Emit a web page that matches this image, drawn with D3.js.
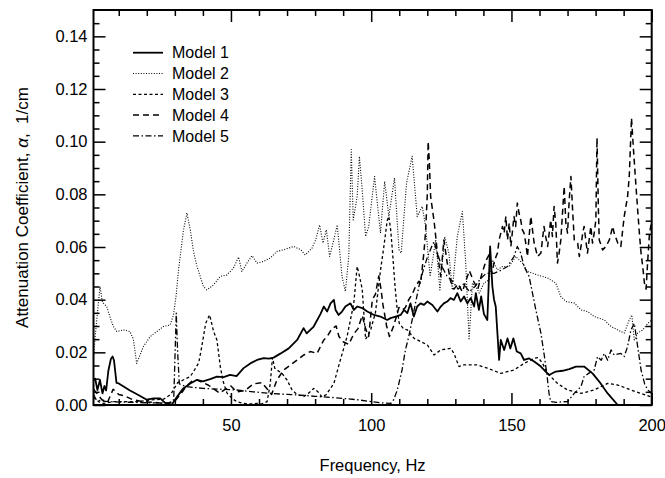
<!DOCTYPE html>
<html>
<head>
<meta charset="utf-8">
<script src="https://cdn.jsdelivr.net/npm/d3@7"></script>
<style>
  body { margin: 0; background: #fff; }
  text { font-family: "Liberation Sans", Arial, sans-serif; fill: #000; }
</style>
</head>
<body>
<div id="chart"></div>
<script>
// [frequency Hz, attenuation 1/cm]
let model1 = [[1,0.0095],[1.6,0.0100],[2.4,0.0057],[3.3,0.0095],[4.2,0.0044],[4.9,0.0072],[5.5,0.0055],[6.3,0.013],[7.2,0.0175],[7.8,0.0184],[8.3,0.017],[9.2,0.0084],[10,0.0082],[14,0.0055],[17,0.0038],[20,0.0020],[22.4,0.0025],[24.8,0.0025],[26.5,0.0008],[28.9,0.0001],[30.7,0.003],[33,0.0063],[35.5,0.0082],[37.8,0.0095],[40,0.009],[42.6,0.0098],[45,0.0108],[47.4,0.0106],[49.7,0.0114],[52,0.011],[54.5,0.014],[56.9,0.0158],[59.3,0.0171],[61.7,0.0178],[63.5,0.0176],[65.2,0.0180],[67.6,0.0195],[70.6,0.0215],[73.6,0.0247],[75.9,0.0292],[77,0.0272],[79.5,0.0298],[81.9,0.0345],[83.1,0.0374],[84.3,0.0355],[85.5,0.0386],[86.7,0.0399],[87.3,0.0361],[88.4,0.0342],[89.6,0.0355],[90.8,0.0374],[92.6,0.0386],[93.8,0.0361],[95,0.0374],[96.8,0.0368],[98.6,0.0355],[101,0.0342],[103.3,0.0336],[105.7,0.0323],[106.9,0.033],[108.7,0.0336],[110.5,0.0342],[111.7,0.0361],[112.9,0.0349],[114,0.0386],[115.2,0.0336],[116.4,0.0374],[117.6,0.0386],[118.8,0.038],[120,0.0393],[121.8,0.038],[123.6,0.0355],[124.8,0.0374],[125.9,0.0386],[127.1,0.0393],[128.3,0.0406],[129.5,0.0399],[130.7,0.0425],[131.9,0.0393],[133.1,0.0412],[134.3,0.0386],[135.5,0.0406],[136.7,0.0374],[137.3,0.0425],[138.4,0.0361],[139.2,0.0412],[140.2,0.0345],[141.4,0.0323],[142.4,0.0602],[143.2,0.045],[143.8,0.04],[144.4,0.0374],[145.6,0.0171],[146.2,0.0247],[147.4,0.0209],[148.6,0.0253],[149.6,0.0215],[150.7,0.0253],[151.9,0.0203],[153.3,0.0196],[154.5,0.0171],[156.3,0.0177],[158.1,0.0165],[160.5,0.0146],[162.2,0.0127],[163.4,0.0114],[165.8,0.0127],[168.2,0.013],[170.6,0.0136],[173,0.0146],[175.9,0.0146],[178.9,0.012],[181.3,0.0089],[184.3,0.0044],[187.9,0]];

let model2 = [[1,0.018],[1.6,0.026],[2.5,0.036],[3.3,0.045],[4.2,0.039],[5.7,0.0374],[7,0.033],[8.1,0.0298],[9.3,0.0279],[11.7,0.0285],[14,0.0279],[15.2,0.025],[16.4,0.0158],[17.6,0.019],[18.8,0.0222],[21.2,0.026],[23.6,0.0279],[25.9,0.0298],[28.3,0.0304],[29.5,0.034],[30.5,0.042],[31.3,0.0513],[33.1,0.0665],[34.3,0.0729],[35.5,0.0665],[36.7,0.058],[37.9,0.0526],[40.2,0.045],[41.4,0.0437],[43.8,0.0456],[46.2,0.0488],[48.6,0.0494],[50.9,0.052],[52.7,0.0562],[53.9,0.0507],[55.7,0.0539],[57.5,0.0567],[59.3,0.0539],[61.6,0.0545],[64,0.0558],[66.4,0.0583],[68.8,0.059],[70.6,0.0596],[72.4,0.0602],[74.8,0.059],[76.5,0.057],[78.9,0.0596],[80.2,0.0627],[81.6,0.0684],[82.8,0.0615],[84,0.0665],[85.2,0.0564],[86.5,0.062],[87.9,0.0684],[89.6,0.0488],[90.8,0.0431],[92,0.0564],[92.9,0.097],[93.6,0.0703],[95,0.0792],[95.8,0.0944],[96.8,0.0817],[98,0.064],[99.1,0.0678],[101.2,0.0868],[103.3,0.0653],[104.8,0.0849],[106.3,0.0716],[108.3,0.0862],[109.9,0.059],[110.7,0.0577],[112.6,0.0843],[114.6,0.0944],[116.4,0.0716],[118.2,0.0754],[119.4,0.0678],[121,0.0488],[123,0.0627],[124.5,0.0437],[126.2,0.064],[127.7,0.0577],[128.9,0.0437],[130.7,0.064],[132.5,0.0735],[133.7,0.0539],[134.9,0.0247],[136.1,0.0463],[137.3,0.045],[138.5,0.0425],[140.2,0.0463],[142,0.0475],[143.2,0.0551],[145,0.0513],[146.8,0.0526],[149.2,0.0526],[151.5,0.0564],[153.9,0.0539],[155.7,0.0507],[159.3,0.0494],[162.9,0.0482],[165.8,0.0463],[167.6,0.0412],[169.4,0.0393],[172.4,0.0387],[174.8,0.0361],[177.1,0.0355],[179.5,0.0336],[183.1,0.0323],[185.5,0.0298],[187.9,0.0285],[190.2,0.0273],[192,0.0323],[192.9,0.0342],[193.8,0.0247],[195,0.0273],[196.8,0.0285],[198.6,0.031],[200,0.0323]];

let model3 = [[1,0.003],[2,0.0019],[3,0.0012],[4.5,0.0006],[8,0.0013],[12,0.0013],[17.6,0.0013],[21,0.0019],[26,0.0022],[28.5,0.004],[29.5,0.0057],[31,0.0085],[33,0.0095],[35.5,0.0108],[37,0.0133],[38.5,0.016],[39.6,0.0222],[41,0.031],[42.4,0.0342],[43.8,0.028],[45,0.0247],[46.2,0.0146],[47.2,0.009],[48.6,0.0045],[50.4,0.0025],[52,0.0013],[54.5,0.0006],[57,0.0004],[59.3,0.0006],[61,0.0004],[62.9,0.0013],[64,0.008],[64.8,0.018],[65.6,0.014],[66.4,0.0133],[68.2,0.012],[70,0.0095],[71.8,0.0057],[73.6,0.004],[76,0.0032],[78,0.0048],[79.5,0.0063],[81,0.005],[82.5,0.003],[84,0.004],[86.7,0.0082],[89,0.0171],[91.4,0.026],[93.8,0.0387],[95,0.0526],[95.6,0.05],[96.8,0.044],[98,0.025],[98.6,0.026],[99.8,0.0285],[101.5,0.035],[103.3,0.051],[104.5,0.06],[105.7,0.07],[106.3,0.0716],[107,0.066],[107.6,0.058],[108.5,0.045],[109.3,0.036],[110,0.031],[111.5,0.029],[112.9,0.0285],[115.2,0.0254],[117.6,0.0241],[120,0.0228],[122.4,0.019],[124.8,0.0209],[128.3,0.0215],[129.5,0.0196],[131.3,0.0146],[133.1,0.0152],[137.9,0.0152],[141.4,0.014],[146.2,0.012],[150.9,0.0133],[154.5,0.0158],[158.1,0.0177],[159.5,0.018],[161,0.016],[162.9,0.012],[166.4,0.0082],[170,0.0057],[174.8,0.0044],[179.5,0.0057],[184.3,0.0082],[187.9,0.0076],[192.6,0.0057],[196.2,0.0044],[200,0.003]];

let model4 = [[1,0.006],[2.5,0.004],[4,0.002],[6,0.001],[8,0.006],[10,0.004],[12,0.0035],[15,0.002],[19,0.0012],[23,0.001],[27,0.0005],[30,0.0015],[32,0.004],[34,0.007],[36,0.009],[38,0.0095],[40,0.0085],[42,0.0075],[44,0.006],[46,0.0045],[48,0.006],[50,0.0072],[52,0.005],[55,0.0055],[58,0.008],[61,0.0085],[63,0.006],[64.5,0.004],[66.4,0.0095],[68.8,0.0133],[71,0.015],[73.6,0.0171],[76,0.019],[78.3,0.0203],[80.7,0.0196],[83.1,0.0247],[84.3,0.026],[86,0.029],[87.5,0.030],[88.5,0.026],[90,0.024],[92,0.023],[93.8,0.027],[95.3,0.029],[96.8,0.034],[98,0.029],[99.1,0.026],[100.4,0.04],[101.5,0.042],[102.7,0.049],[103.5,0.044],[104.2,0.038],[105.5,0.03],[106.5,0.026],[108,0.03],[109.9,0.037],[111,0.036],[112.2,0.037],[113.4,0.04],[114.6,0.042],[115.8,0.045],[117,0.047],[117.6,0.046],[118.2,0.052],[118.8,0.058],[119.4,0.066],[120,0.08],[120.3,0.1],[120.7,0.093],[121.2,0.079],[122.4,0.07],[123,0.064],[123.6,0.0577],[124.8,0.0488],[125.9,0.0627],[127.1,0.054],[128.3,0.047],[129.5,0.044],[131,0.046],[132.5,0.043],[133.7,0.047],[135,0.051],[136.5,0.047],[138,0.044],[139.5,0.05],[141,0.055],[142,0.057],[143,0.05],[144,0.055],[145,0.0577],[145.6,0.0627],[146.8,0.0678],[147.4,0.0653],[148,0.0716],[148.6,0.0627],[149.2,0.0691],[149.8,0.0602],[150.9,0.0716],[151.5,0.0678],[152.1,0.0767],[152.7,0.0729],[153.3,0.0703],[153.9,0.0665],[154.5,0.0653],[155.1,0.0615],[155.7,0.0564],[156.9,0.0716],[157.5,0.0665],[158.1,0.0615],[159.3,0.0564],[160.5,0.0577],[161.6,0.0678],[162.2,0.064],[162.9,0.0602],[164,0.0703],[164.6,0.064],[165.2,0.0754],[165.8,0.0691],[166.4,0.0539],[167,0.0577],[167.6,0.0627],[168.8,0.083],[169.4,0.0691],[170,0.0653],[170.6,0.078],[171.2,0.0868],[171.8,0.0741],[172.4,0.0627],[173.6,0.0615],[174.2,0.0564],[174.8,0.0602],[175.4,0.0653],[175.9,0.0678],[177.1,0.0577],[178.3,0.0678],[178.9,0.0615],[179.5,0.0653],[180.1,0.0703],[180.5,0.1014],[181,0.0741],[181.3,0.0627],[182.5,0.0589],[183.7,0.0602],[184.9,0.0627],[186.1,0.0678],[186.6,0.0653],[187.9,0.0615],[189,0.0602],[190.2,0.0716],[191.4,0.0792],[192,0.0868],[192.8,0.109],[193.5,0.097],[194.4,0.083],[195,0.0741],[195.6,0.0653],[196.2,0.0577],[196.8,0.0526],[197.4,0.0463],[198,0.044],[198.6,0.055],[199.2,0.065],[200,0.07]];

let model5 = [[1,0.004],[2,0.002],[4,0.0015],[8,0.0012],[15,0.001],[22,0.0008],[28,0.0008],[29.6,0.002],[30.1,0.02],[30.5,0.0349],[31,0.02],[31.6,0.008],[34,0.007],[40,0.0063],[46,0.006],[52,0.0057],[58,0.005],[64,0.0044],[70,0.004],[74,0.0038],[80,0.0033],[85.5,0.0029],[90,0.0025],[95,0.002],[100,0.0013],[104,0.0008],[107,0.0006],[108,0.002],[109.3,0.0057],[111,0.0133],[112.2,0.0209],[113.4,0.026],[114.6,0.0323],[115.8,0.0387],[117,0.045],[118.5,0.051],[120,0.056],[121.5,0.06],[122.4,0.062],[123.5,0.058],[125,0.053],[127,0.049],[129,0.047],[131,0.044],[133,0.046],[135,0.043],[137,0.045],[139,0.048],[141,0.05],[143.8,0.05],[146,0.051],[148.6,0.0526],[150.9,0.0564],[152.1,0.0602],[153.3,0.0577],[154.5,0.0526],[156.3,0.0488],[157.5,0.0425],[158.7,0.0361],[160.5,0.0273],[161.6,0.0196],[162.6,0.012],[163.4,0.0044],[164,0.0013],[166,0.001],[168,0.0012],[170,0.0013],[172.4,0.0044],[174.8,0.007],[175.9,0.0108],[177.5,0.012],[179.5,0.0133],[180.7,0.0184],[182,0.017],[183.1,0.0196],[184.3,0.017],[185.5,0.0209],[186.6,0.019],[189,0.0196],[190.2,0.0184],[191.4,0.0222],[192.6,0.0285],[193.8,0.031],[195,0.0222],[196.2,0.0133],[197.5,0.008],[198.6,0.0057],[200,0.0044]];

let seriesNames = ["Model 1", "Model 2", "Model 3", "Model 4", "Model 5"];
let xTicks = [50, 100, 150, 200];
let yTicks = [0, 0.02, 0.04, 0.06, 0.08, 0.10, 0.12, 0.14];

// line looks for each model
let styles = [
  { dash: null, width: 1.8 },
  { dash: "1,1.6", width: 1.1 },
  { dash: "3,2.5", width: 1.3 },
  { dash: "6,4", width: 1.5 },
  { dash: "6,2.5,1.5,2.5", width: 1.3 }
];

let width = 665, height = 478;
let plotLeft = 93.5, plotRight = 651.7, plotTop = 10, plotBottom = 405;

let svg = d3.select("#chart").append("svg")
  .attr("width", width)
  .attr("height", height);

let x = d3.scaleLinear().domain([1, 200]).range([plotLeft, plotRight]);
let y = d3.scaleLinear().domain([0, 0.15]).range([plotBottom, plotTop]);

svg.append("clipPath").attr("id", "plotclip")
  .append("rect")
  .attr("x", plotLeft).attr("y", plotTop)
  .attr("width", plotRight - plotLeft).attr("height", plotBottom - plotTop);

// data lines
let line = d3.line()
  .x(d => x(d[0]))
  .y(d => y(d[1]));

let allSeries = [model1, model2, model3, model4, model5];
let plot = svg.append("g").attr("clip-path", "url(#plotclip)");
allSeries.forEach((s, i) => {
  plot.append("path")
    .datum(s)
    .attr("d", line)
    .attr("fill", "none")
    .attr("stroke", "#000")
    .attr("stroke-width", styles[i].width)
    .attr("stroke-dasharray", styles[i].dash)
    .attr("stroke-linejoin", "round");
});

// minor tick values
let xMinor = d3.range(10, 200, 10).filter(v => v % 50 != 0);
let yMinor = d3.range(1, 30).map(k => k * 0.005).filter(v => Math.abs(v / 0.02 - Math.round(v / 0.02)) > 1e-6);

function styleAxis(g) {
  g.select(".domain").remove();
  g.selectAll(".tick line").attr("stroke", "#000").attr("stroke-width", 1.5);
  g.selectAll(".tick text")
    .style("font-family", '"Liberation Sans", Arial, sans-serif')
    .style("font-size", "16.5px")
    .attr("fill", "#000");
}

// bottom
svg.append("g").attr("transform", "translate(0," + plotBottom + ")")
  .call(d3.axisBottom(x).tickValues(xTicks).tickSize(-12).tickSizeOuter(0).tickPadding(14).tickFormat(d3.format("d")))
  .call(styleAxis);
svg.append("g").attr("transform", "translate(0," + plotBottom + ")")
  .call(d3.axisBottom(x).tickValues(xMinor).tickSize(-6).tickSizeOuter(0).tickFormat(""))
  .call(styleAxis);
// top
svg.append("g").attr("transform", "translate(0," + plotTop + ")")
  .call(d3.axisTop(x).tickValues(xTicks).tickSize(-12).tickSizeOuter(0).tickFormat(""))
  .call(styleAxis);
svg.append("g").attr("transform", "translate(0," + plotTop + ")")
  .call(d3.axisTop(x).tickValues(xMinor).tickSize(-6).tickSizeOuter(0).tickFormat(""))
  .call(styleAxis);
// left
svg.append("g").attr("transform", "translate(" + plotLeft + ",0)")
  .call(d3.axisLeft(y).tickValues(yTicks).tickSize(-12).tickSizeOuter(0).tickPadding(6).tickFormat(d3.format(".2f")))
  .call(styleAxis);
svg.append("g").attr("transform", "translate(" + plotLeft + ",0)")
  .call(d3.axisLeft(y).tickValues(yMinor).tickSize(-6).tickSizeOuter(0).tickFormat(""))
  .call(styleAxis);
// right
svg.append("g").attr("transform", "translate(" + plotRight + ",0)")
  .call(d3.axisRight(y).tickValues(yTicks).tickSize(-12).tickSizeOuter(0).tickFormat(""))
  .call(styleAxis);
svg.append("g").attr("transform", "translate(" + plotRight + ",0)")
  .call(d3.axisRight(y).tickValues(yMinor).tickSize(-6).tickSizeOuter(0).tickFormat(""))
  .call(styleAxis);

// frame
svg.append("rect")
  .attr("x", plotLeft).attr("y", plotTop)
  .attr("width", plotRight - plotLeft).attr("height", plotBottom - plotTop)
  .attr("fill", "none")
  .attr("stroke", "#000")
  .attr("stroke-width", 2);

// axis titles
svg.append("text")
  .attr("x", (plotLeft + plotRight) / 2)
  .attr("y", 471)
  .attr("text-anchor", "middle")
  .style("font-size", "16.5px")
  .text("Frequency, Hz");

let yTitle = svg.append("text")
  .attr("transform", "translate(28," + ((plotTop + plotBottom) / 2) + ") rotate(-90)")
  .attr("text-anchor", "middle")
  .style("font-size", "17px")
  .style("white-space", "pre");
yTitle.append("tspan").text("Attenuation Coefficient, ");
yTitle.append("tspan").style("font-style", "italic").text("\u03b1");
yTitle.append("tspan").text(",  1/cm");

// legend
let legend = svg.append("g");
seriesNames.forEach((name, i) => {
  let ly = 52.7 + i * 20.8;
  legend.append("line")
    .attr("x1", 133).attr("x2", 163)
    .attr("y1", ly).attr("y2", ly)
    .attr("stroke", "#000")
    .attr("stroke-width", styles[i].width)
    .attr("stroke-dasharray", styles[i].dash);
  legend.append("text")
    .attr("x", 172).attr("y", ly)
    .attr("dy", "0.35em")
    .style("font-size", "16px")
    .text(name);
});
</script>
</body>
</html>
